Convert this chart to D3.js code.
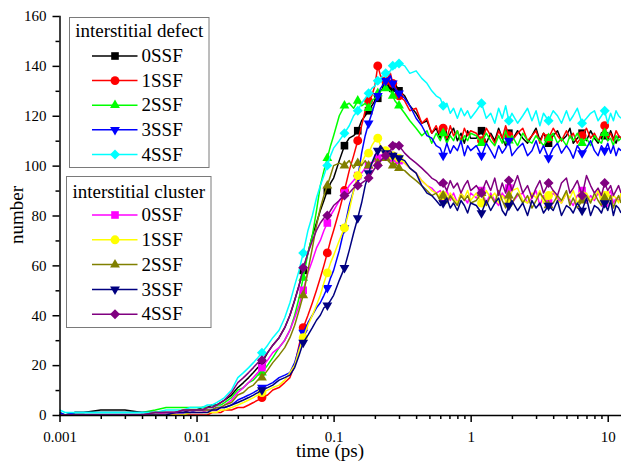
<!DOCTYPE html>
<html>
<head>
<meta charset="utf-8">
<script src="https://cdn.jsdelivr.net/npm/d3@7"></script>
<style>
  body { margin: 0; background: #fff; }
  .axis path, .axis line { stroke: #000; stroke-width: 1.5; }
  .axis text { font-family: "Liberation Serif", "Times New Roman", serif; font-size: 15px; fill: #000; }
  .title { font-family: "Liberation Serif", "Times New Roman", serif; font-size: 19px; fill: #000; }
  .legend text { font-family: "Liberation Serif", "Times New Roman", serif; font-size: 19px; fill: #000; }
</style>
</head>
<body>
<div class="chart"></div>
<script>
// time axis (ps), shared by every series
var times = [0.001, 0.0011, 0.0013, 0.0015, 0.002, 0.0025, 0.003, 0.004, 0.005, 0.006, 0.007, 0.008, 0.009, 0.010,
  0.011, 0.012, 0.013, 0.014, 0.015, 0.016, 0.018, 0.020, 0.022, 0.024, 0.026, 0.028, 0.030, 0.033, 0.036, 0.040, 0.044, 0.048, 0.052, 0.056, 0.060, 0.065, 0.070, 0.075, 0.080, 0.085, 0.090, 0.095, 0.100,
  0.11, 0.12, 0.13, 0.14, 0.15, 0.16, 0.17, 0.18, 0.19, 0.20, 0.21, 0.22, 0.24, 0.26, 0.27, 0.28, 0.30, 0.33, 0.36, 0.40, 0.44, 0.48, 0.52, 0.56, 0.60, 0.63, 0.67, 0.71, 0.75, 0.80, 0.85, 0.90, 0.95, 1.0,
  1.1, 1.2, 1.3, 1.4, 1.5, 1.6, 1.7, 1.8, 1.9, 2.0, 2.2, 2.4, 2.6, 2.8, 3.0, 3.2, 3.4, 3.7, 4.0, 4.3, 4.6, 5.0, 5.3, 5.6, 6.0, 6.5, 7.0, 7.5, 8.0, 8.5, 9.0, 9.5, 10, 10.5, 11, 11.5, 12, 12.5];

// interstitial defect
var defect0 = [0,0,1,1,2,2,2,1,1,1,1,1,2,2,
  3,3,4,4,5,6,8,11,13,15,17,19,21,25,28,31,35,40,46,52,58,65,72,77,82,86,90,93,95,
  102,108,111,112,114,118,120,122,124,126,127,130,132,134,131,133,130,128,124,121,117,118,113,115,111,114,110,113,115,110,113,109,114,111,
  111,114,109,113,110,115,111,108,113,110,114,111,109,112,115,110,113,109,112,114,110,112,115,109,111,113,110,114,111,109,113,112,110,114,111,109,112,111];
var defect1 = [0,0,0,0,0,0,0,0,0,0,0,0,0,0,
  0,0,1,1,1,2,2,3,3,4,5,6,7,8,10,11,13,15,20,28,35,40,45,50,55,60,65,70,74,
  82,90,98,104,110,116,122,126,128,132,140,136,134,137,133,132,128,126,122,123,117,119,113,116,112,115,111,116,112,114,110,115,112,114,
  113,110,115,112,109,114,111,116,112,110,113,115,110,112,114,109,113,111,115,112,110,114,111,113,109,112,115,111,113,110,112,116,111,113,110,114,112,111];
var defect2 = [1,0,1,1,1,1,1,1,2,3,3,3,3,3,
  3,3,3,4,4,5,7,10,11,13,14,16,17,20,23,27,30,34,40,47,55,65,72,82,92,98,103,108,112,
  120,124,125,123,126,124,125,123,126,127,129,130,131,130,128,126,124,121,118,115,112,114,109,113,110,113,109,112,110,114,109,112,110,113,
  112,109,113,110,108,112,109,114,110,112,108,113,110,109,112,110,108,111,113,109,111,108,112,110,113,109,111,108,112,110,109,113,110,111,108,112,110,111];
var defect3 = [1,0,1,1,1,1,1,1,1,1,1,1,1,2,
  2,2,2,3,3,3,4,6,7,8,9,10,11,12,13,15,16,17,21,27,33,37,40,43,45,48,51,55,58,
  66,75,84,90,95,105,112,117,121,125,128,131,134,136,133,131,129,127,124,119,116,112,111,108,107,104,109,105,108,106,110,104,108,106,
  108,104,109,106,103,108,105,107,110,104,107,109,104,106,110,105,108,103,107,109,105,108,106,103,108,105,107,110,106,104,108,106,109,105,108,104,107,106];
var defect4 = [2,1,1,1,1,1,1,1,1,2,2,2,3,3,
  3,4,4,5,6,7,10,15,17,19,21,23,25,28,31,34,39,45,52,58,65,74,80,87,92,96,100,104,107,
  110,113,116,120,122,125,127,129,131,132,134,135,137,138,140,139,141,140,137,138,135,133,130,128,127,124,125,121,123,119,123,120,122,119,
  122,125,119,121,117,123,119,124,118,121,117,120,123,118,122,116,121,118,122,120,117,122,118,120,123,117,119,121,122,118,120,122,117,121,118,122,120,119];

// interstitial cluster
var cluster0 = [0,0,0,0,0,0,0,0,0,1,1,1,1,1,
  1,2,2,2,3,4,6,9,11,13,15,17,19,22,25,27,30,34,39,44,50,57,62,67,70,74,77,80,82,
  86,89,92,94,96,97,99,100,101,102,103,104,105,104,103,104,102,101,99,97,94,92,91,89,90,87,90,86,89,85,89,87,85,89,
  87,90,85,89,86,84,89,87,91,85,88,89,85,87,90,84,88,85,89,87,85,89,86,84,88,90,85,88,86,89,87,85,88,90,85,87,86,88];
var cluster1 = [0,0,0,0,0,0,0,0,0,0,0,0,1,1,
  1,1,1,1,2,2,3,4,5,6,7,8,9,10,11,12,14,17,20,26,31,36,40,44,48,53,57,61,64,
  70,75,82,90,96,101,104,105,108,110,111,108,106,105,104,105,103,101,99,97,94,92,90,89,87,88,86,89,87,85,89,87,90,86,
  89,85,90,87,89,85,88,86,85,90,91,86,85,89,87,90,85,88,90,86,85,89,87,90,85,88,89,86,87,90,85,88,90,86,88,87,85,89];
var cluster2 = [0,0,0,0,0,0,0,0,1,1,1,2,2,2,
  2,2,2,3,3,4,5,8,9,11,12,14,15,18,21,24,27,31,36,42,48,58,67,76,83,88,92,96,100,
  101,100,102,99,101,100,102,100,101,103,101,102,103,101,100,101,99,98,96,94,92,90,88,89,86,88,85,88,86,84,88,86,88,85,
  86,89,84,88,85,90,86,83,88,85,89,85,88,83,86,89,87,84,85,88,86,90,84,87,83,86,88,85,89,86,84,87,85,88,83,86,88,85];
var cluster3 = [0,0,0,0,0,0,0,0,0,0,1,1,1,1,
  1,1,2,2,3,3,4,5,6,7,8,9,10,11,12,14,15,16,19,24,29,32,35,38,40,43,44,46,48,
  54,59,66,73,79,85,92,97,101,104,106,108,105,106,104,105,103,102,99,97,92,89,88,86,84,85,87,83,85,82,86,84,81,85,
  84,81,86,82,85,87,82,80,84,86,82,85,80,86,83,85,81,84,82,86,80,84,83,81,85,82,87,80,84,83,81,85,82,86,80,84,83,81];
var cluster4 = [0,0,0,0,0,0,0,0,1,1,1,2,2,2,
  2,3,3,4,5,6,9,13,15,17,19,21,22,25,28,31,35,40,46,52,59,65,70,74,77,79,80,82,84,
  86,88,89,91,92,93,94,95,97,99,100,102,104,106,108,109,108,105,103,101,99,97,95,94,92,93,90,94,91,93,89,92,94,90,
  92,89,94,90,95,88,93,89,94,90,96,89,92,87,91,94,89,93,90,88,93,95,89,91,94,88,96,92,89,91,88,93,90,92,88,90,92,89];

var markerTimes = [0.03, 0.06, 0.09, 0.12, 0.15, 0.18, 0.21, 0.24, 0.27, 0.30, 0.63, 1.2, 1.9, 3.7, 6.5, 9.5];
var ssfLabels = ["0SSF", "1SSF", "2SSF", "3SSF", "4SSF"];
var legendTitles = ["interstitial defect", "interstitial cluster"];
var xTicks = [0.001, 0.01, 0.1, 1, 10];
var xTickLabels = ["0.001", "0.01", "0.1", "1", "10"];
var yTicks = [0, 20, 40, 60, 80, 100, 120, 140, 160];

var defectColors = ["#000000", "#ff0000", "#00ff00", "#0000ff", "#00ffff"];
var clusterColors = ["#ff00ff", "#ffff00", "#808000", "#000080", "#800080"];

var W = 621, H = 462;
var plotL = 59.5, plotR = 621, plotT = 16, plotB = 415;

var svg = d3.select(".chart").append("svg")
    .attr("width", W)
    .attr("height", H);

var xScale = d3.scaleLog().domain([0.001, 12.5]).range([plotL, plotR]);
var yScale = d3.scaleLinear().domain([0, 160]).range([plotB, plotT]);

// marker shapes: square, circle, up triangle, down triangle, diamond
function symbolPath(k) {
    var types = [d3.symbolSquare, d3.symbolCircle, d3.symbolTriangle, d3.symbolTriangle, d3.symbolSquare];
    var sizes = [58, 62, 42, 42, 50];
    return d3.symbol().type(types[k]).size(sizes[k])();
}
function symbolRot(k) {
    if (k == 3) return " rotate(180)";
    if (k == 4) return " rotate(45)";
    return "";
}

svg.append("clipPath").attr("id", "plot-clip")
  .append("rect")
    .attr("x", plotL).attr("y", 0)
    .attr("width", plotR - plotL).attr("height", plotB);

var plot = svg.append("g").attr("clip-path", "url(#plot-clip)");

var line = d3.line()
    .x(d => xScale(d[0]))
    .y(d => yScale(d[1]));

var allSeries = [
    {vals: defect0, color: defectColors[0], sym: 0},
    {vals: defect1, color: defectColors[1], sym: 1},
    {vals: defect2, color: defectColors[2], sym: 2},
    {vals: defect3, color: defectColors[3], sym: 3},
    {vals: defect4, color: defectColors[4], sym: 4},
    {vals: cluster0, color: clusterColors[0], sym: 0},
    {vals: cluster1, color: clusterColors[1], sym: 1},
    {vals: cluster2, color: clusterColors[2], sym: 2},
    {vals: cluster3, color: clusterColors[3], sym: 3},
    {vals: cluster4, color: clusterColors[4], sym: 4}
];

allSeries.forEach(function(s) {
    var pts = times.map((t, i) => [t, s.vals[i]]);
    plot.append("path")
        .datum(pts)
        .attr("fill", "none")
        .attr("stroke", s.color)
        .attr("stroke-width", 1.5)
        .attr("stroke-linejoin", "round")
        .attr("d", line);

    var marks = markerTimes.map(function(mt) {
        var i = d3.minIndex(times, t => Math.abs(Math.log(t / mt)));
        return pts[i];
    });
    plot.selectAll(null)
        .data(marks)
        .enter().append("path")
        .attr("d", symbolPath(s.sym))
        .attr("transform", d => "translate(" + xScale(d[0]) + "," + yScale(d[1]) + ")" + symbolRot(s.sym))
        .attr("fill", s.color);
});

// axes
var yAxis = d3.axisLeft(yScale).tickValues(yTicks).tickSize(7).tickPadding(6).tickSizeOuter(0);
svg.append("g")
    .attr("class", "axis y-axis")
    .attr("transform", `translate(${plotL},0)`)
    .call(yAxis);

var yMinor = d3.axisLeft(yScale).tickValues(d3.range(10, 160, 20)).tickSize(4).tickFormat("").tickSizeOuter(0);
svg.append("g")
    .attr("class", "axis")
    .attr("transform", `translate(${plotL},0)`)
    .call(yMinor)
    .select(".domain").remove();

var xAxis = d3.axisBottom(xScale).tickValues(xTicks).tickSize(7).tickPadding(9).tickSizeOuter(0)
    .tickFormat((d, i) => xTickLabels[i]);
svg.append("g")
    .attr("class", "axis x-axis")
    .attr("transform", `translate(0,${plotB})`)
    .call(xAxis);

var minorX = [];
xTicks.forEach(function(d) {
    for (var m = 2; m <= 9; m++) if (d * m <= 12.5) minorX.push(d * m);
});
var xMinor = d3.axisBottom(xScale).tickValues(minorX).tickSize(4).tickFormat("").tickSizeOuter(0);
svg.append("g")
    .attr("class", "axis")
    .attr("transform", `translate(0,${plotB})`)
    .call(xMinor)
    .select(".domain").remove();

svg.selectAll(".domain").attr("stroke-linecap", "square");

// axis titles
svg.append("text")
    .attr("class", "title")
    .attr("x", 330)
    .attr("y", 457)
    .attr("text-anchor", "middle")
    .text("time (ps)");

svg.append("text")
    .attr("class", "title")
    .attr("transform", "translate(23,215) rotate(-90)")
    .attr("text-anchor", "middle")
    .text("number");

// legends
var legendBoxes = [
    {x: 69.5, y: 17.5, w: 139.5, h: 150, titleY: 31, rowY: 56, step: 24.6, colors: defectColors},
    {x: 66.5, y: 176.5, w: 144.5, h: 151, titleY: 191.5, rowY: 215, step: 24.8, colors: clusterColors}
];

legendBoxes.forEach(function(b, j) {
    var g = svg.append("g").attr("class", "legend");
    g.append("rect")
        .attr("x", b.x).attr("y", b.y)
        .attr("width", b.w).attr("height", b.h)
        .attr("fill", "#fff")
        .attr("stroke", "#7a7a7a")
        .attr("stroke-width", 1);
    g.append("text")
        .attr("x", b.x + b.w / 2)
        .attr("y", b.titleY)
        .attr("dy", "0.33em")
        .attr("text-anchor", "middle")
        .text(legendTitles[j]);
    ssfLabels.forEach(function(lab, k) {
        var cy = b.rowY + k * b.step;
        g.append("line")
            .attr("x1", 92).attr("x2", 137.5)
            .attr("y1", cy).attr("y2", cy)
            .attr("stroke", b.colors[k])
            .attr("stroke-width", 1.5);
        g.append("path")
            .attr("d", symbolPath(k))
            .attr("transform", "translate(115," + cy + ")" + symbolRot(k))
            .attr("fill", b.colors[k]);
        g.append("text")
            .attr("x", 141.5)
            .attr("y", cy)
            .attr("dy", "0.33em")
            .text(lab);
    });
});
</script>
</body>
</html>
